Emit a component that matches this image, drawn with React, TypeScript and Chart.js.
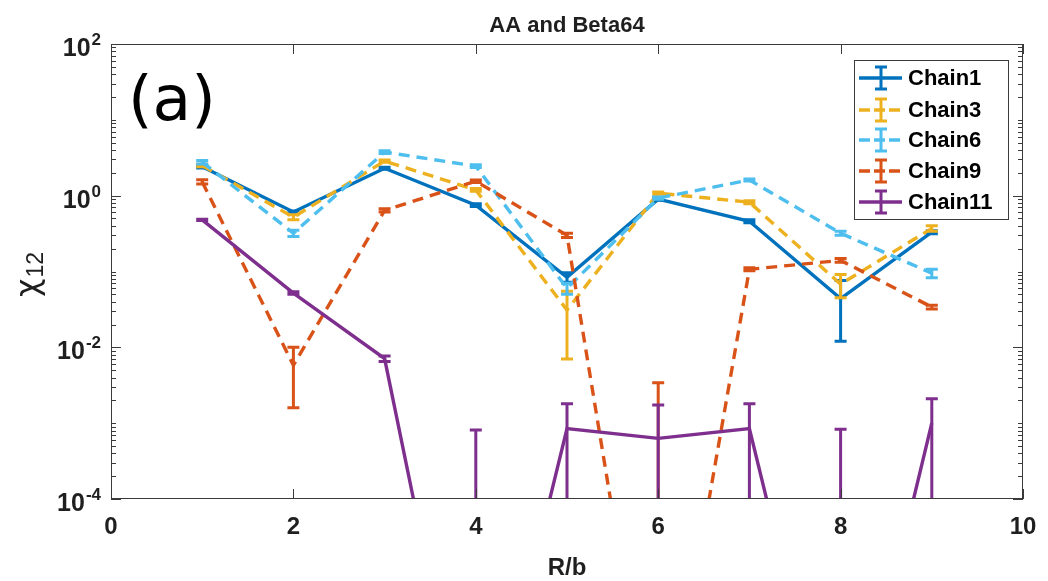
import React, { useEffect, useRef } from "react";
import { Chart, registerables } from "chart.js";

Chart.register(...registerables);

// ---- data ----
const rValues = [1, 2, 3, 4, 5, 6, 7, 8, 9];

const chain1 = [2.4, 0.61, 2.3, 0.75, 0.084, 0.9, 0.46, 0.044, 0.33];
const chain1Err = [0.08, 0.02, 0.07, 0.03, 0.012, 0.03, 0.02, 0.032, 0.015];

const chain3 = [2.5, 0.52, 2.86, 1.19, 0.031, 1.08, 0.82, 0.068, 0.37];
const chain3Err = [0.1, 0.04, 0.1, 0.05, 0.024, 0.04, 0.04, 0.023, 0.03];

const chain6 = [2.77, 0.32, 3.76, 2.45, 0.06, 0.93, 1.61, 0.32, 0.095];
const chain6Err = [0.15, 0.03, 0.15, 0.1, 0.01, 0.03, 0.05, 0.02, 0.012];

const chain9 = [1.52, 0.0058, 0.64, 1.55, 0.3, 1.5e-8, 0.107, 0.14, 0.034];
const chain9Err = [0.1, 0.0042, 0.03, 0.06, 0.02, 0.0034, 0.005, 0.008, 0.002];

const chain11 = [0.48, 0.052, 0.0071, 1e-8, 8.5e-4, 6.3e-4, 8.5e-4, 1e-8, 1e-3];
const chain11Err = [0.01, 0.002, 0.0006, 8.1e-4, 9.5e-4, 1.1e-3, 9.5e-4, 8.3e-4, 1.1e-3];

const seriesNames = ["Chain1", "Chain3", "Chain6", "Chain9", "Chain11"];
const seriesValues = [chain1, chain3, chain6, chain9, chain11];
const seriesErrors = [chain1Err, chain3Err, chain6Err, chain9Err, chain11Err];

const xTicks = [0, 2, 4, 6, 8, 10];
const yTickExponents = [2, 0, -2, -4];

const chartTitle = "AA and Beta64";
const xAxisTitle = "R/b";
const panelTag = "(a)";

// ---- styling ----
const seriesColors = ["#0072BD", "#EDB120", "#4DBEEE", "#D95319", "#7E2F8E"];
const seriesDashed = [false, true, true, true, false];
const DASH = [11, 7];
const LINE_W = 3.4;
const INK = "#1f1f1f";
const FRAME = "#3a3a3a";
const SANS = '"Liberation Sans", Arial, Helvetica, sans-serif';

const datasets = seriesNames.map((name, k) => ({
  label: name,
  data: rValues.map((x, i) => ({ x, y: seriesValues[k][i] })),
  errors: seriesErrors[k],
  borderColor: seriesColors[k],
  backgroundColor: seriesColors[k],
  borderWidth: LINE_W,
  borderDash: seriesDashed[k] ? DASH : [],
  pointRadius: 0,
  tension: 0,
  fill: false,
  clip: 0,
  order: seriesNames.length - k,
}));

// vertical error bars with caps, drawn right after each series' line
const errorBarPlugin = {
  id: "errorBars",
  afterDatasetDraw(chart: any, args: any) {
    const ds: any = chart.data.datasets[args.index];
    const xs = chart.scales.x;
    const ys = chart.scales.y;
    const a = chart.chartArea;
    const ctx = chart.ctx;
    ctx.save();
    ctx.beginPath();
    ctx.rect(a.left, a.top, a.right - a.left, a.bottom - a.top);
    ctx.clip();
    ctx.strokeStyle = ds.borderColor;
    ctx.lineWidth = 3;
    ctx.setLineDash([]);
    ctx.lineCap = "butt";
    ds.data.forEach((p: any, i: number) => {
      const e = ds.errors[i];
      const hi = p.y + e;
      const lo = p.y - e > 0 ? p.y - e : 1e-12;
      const px = xs.getPixelForValue(p.x);
      const pHi = ys.getPixelForValue(hi);
      const pLo = ys.getPixelForValue(lo);
      const cap = 6;
      ctx.beginPath();
      ctx.moveTo(px, pLo);
      ctx.lineTo(px, pHi);
      ctx.moveTo(px - cap, pHi);
      ctx.lineTo(px + cap, pHi);
      ctx.moveTo(px - cap, pLo);
      ctx.lineTo(px + cap, pLo);
      ctx.stroke();
    });
    ctx.restore();
  },
};

// frame, ticks, labels, title, panel tag and legend
const decorPlugin = {
  id: "decor",
  afterDraw(chart: any) {
    const ctx = chart.ctx;
    const a = chart.chartArea;
    const xs = chart.scales.x;
    const ys = chart.scales.y;
    ctx.save();

    ctx.strokeStyle = FRAME;
    ctx.lineWidth = 1;
    ctx.setLineDash([]);
    ctx.strokeRect(a.left + 0.5, a.top + 0.5, a.right - a.left - 1, a.bottom - a.top - 1);

    ctx.beginPath();
    xTicks.forEach((t) => {
      const px = Math.round(xs.getPixelForValue(t)) + 0.5;
      ctx.moveTo(px, a.bottom);
      ctx.lineTo(px, a.bottom - 10);
      ctx.moveTo(px, a.top);
      ctx.lineTo(px, a.top + 10);
    });
    const majors = yTickExponents.map((e) => Math.pow(10, e));
    for (let d = -4; d <= 1; d++) {
      for (let m = 1; m <= 9; m++) {
        const v = m * Math.pow(10, d);
        const isMajor = majors.some((mv) => Math.abs(mv - v) / mv < 1e-9);
        const len = isMajor ? 10 : 5;
        const py = Math.round(ys.getPixelForValue(v)) + 0.5;
        ctx.moveTo(a.left, py);
        ctx.lineTo(a.left + len, py);
        ctx.moveTo(a.right, py);
        ctx.lineTo(a.right - len, py);
      }
    }
    {
      const py = Math.round(ys.getPixelForValue(100)) + 0.5;
      ctx.moveTo(a.left, py);
      ctx.lineTo(a.left + 10, py);
      ctx.moveTo(a.right, py);
      ctx.lineTo(a.right - 10, py);
    }
    ctx.stroke();

    // x tick labels
    ctx.fillStyle = INK;
    ctx.font = `bold 24px ${SANS}`;
    ctx.textAlign = "center";
    ctx.textBaseline = "middle";
    xTicks.forEach((t) => {
      ctx.fillText(String(t), xs.getPixelForValue(t), a.bottom + 28);
    });

    // y tick labels 10^n
    ctx.textBaseline = "alphabetic";
    ctx.textAlign = "left";
    yTickExponents.forEach((e) => {
      const py = ys.getPixelForValue(Math.pow(10, e));
      ctx.font = `bold 25px ${SANS}`;
      const wBase = ctx.measureText("10").width;
      ctx.font = `bold 17px ${SANS}`;
      const sup = String(e);
      const wSup = ctx.measureText(sup).width;
      const right = a.left - 10;
      const x0 = right - wSup - wBase - 1;
      ctx.font = `bold 25px ${SANS}`;
      ctx.fillText("10", x0, py + 12);
      ctx.font = `bold 17px ${SANS}`;
      ctx.fillText(sup, x0 + wBase + 1, py + 1);
    });

    // axis titles
    ctx.font = `bold 24px ${SANS}`;
    ctx.textAlign = "center";
    ctx.fillText(xAxisTitle, (a.left + a.right) / 2, 575);

    ctx.save();
    ctx.translate(38, 297);
    ctx.rotate(-Math.PI / 2);
    ctx.textAlign = "left";
    ctx.font = `32px "DejaVu Sans", sans-serif`;
    ctx.fillText("\u03C7", 0, 0);
    const wChi = ctx.measureText("\u03C7").width;
    ctx.font = `23px ${SANS}`;
    ctx.fillText("12", wChi + 1, 5);
    ctx.restore();

    // title
    ctx.font = `bold 22px ${SANS}`;
    ctx.textAlign = "center";
    ctx.fillText(chartTitle, (a.left + a.right) / 2, 32);

    // panel tag
    ctx.font = `63px "DejaVu Sans", sans-serif`;
    ctx.textAlign = "left";
    ctx.fillStyle = "#000";
    ctx.fillText(panelTag, 128, 120);

    // legend
    const box = { l: 854, t: 60, r: 1008, b: 219 };
    ctx.fillStyle = "#fff";
    ctx.fillRect(box.l, box.t, box.r - box.l, box.b - box.t);
    ctx.strokeStyle = FRAME;
    ctx.lineWidth = 1;
    ctx.strokeRect(box.l + 0.5, box.t + 0.5, box.r - box.l, box.b - box.t);
    const rowY = [78, 110, 140, 171, 202];
    seriesNames.forEach((name, k) => {
      const y = rowY[k];
      ctx.strokeStyle = seriesColors[k];
      ctx.lineWidth = LINE_W;
      ctx.setLineDash(seriesDashed[k] ? [11, 4] : []);
      ctx.beginPath();
      ctx.moveTo(859, y);
      ctx.lineTo(902, y);
      ctx.stroke();
      ctx.setLineDash([]);
      ctx.lineWidth = 3;
      ctx.beginPath();
      ctx.moveTo(881, y - 11);
      ctx.lineTo(881, y + 11);
      ctx.moveTo(875, y - 11);
      ctx.lineTo(887, y - 11);
      ctx.moveTo(875, y + 11);
      ctx.lineTo(887, y + 11);
      ctx.stroke();
      ctx.fillStyle = "#000";
      ctx.font = `bold 22px ${SANS}`;
      ctx.textAlign = "left";
      ctx.textBaseline = "middle";
      ctx.fillText(name, 908, y + 1);
    });

    ctx.restore();
  },
};

export default function App() {
  const canvasRef = useRef<HTMLCanvasElement>(null);

  useEffect(() => {
    const chart = new Chart(canvasRef.current as HTMLCanvasElement, {
      type: "line",
      data: { datasets: datasets as any },
      options: {
        animation: false,
        responsive: true,
        maintainAspectRatio: false,
        layout: { padding: { top: 44, right: 25, left: 0, bottom: 0 } },
        plugins: {
          legend: { display: false },
          title: { display: false },
          tooltip: { enabled: false },
        },
        scales: {
          x: {
            type: "linear",
            min: 0,
            max: 10,
            grid: { display: false },
            border: { display: false },
            ticks: { display: false },
            afterFit: (s: any) => {
              s.height = 82;
            },
          },
          y: {
            type: "logarithmic",
            min: 1e-4,
            max: 100,
            grid: { display: false },
            border: { display: false },
            ticks: { display: false },
            afterFit: (s: any) => {
              s.width = 111;
            },
          },
        },
      },
      plugins: [errorBarPlugin, decorPlugin],
    });
    return () => chart.destroy();
  }, []);

  return (
    <div
      style={{
        position: "absolute",
        left: 0,
        top: 0,
        width: 1048,
        height: 581,
        background: "#fff",
      }}
    >
      <canvas ref={canvasRef} />
    </div>
  );
}
